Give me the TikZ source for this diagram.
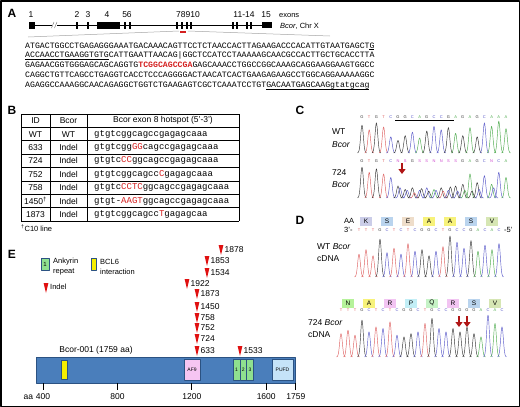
\documentclass[tikz,border=0pt]{standalone}
\usepackage{fontspec}
\setmainfont{Liberation Sans}
\newfontfamily\monofont{Liberation Mono}
\usetikzlibrary{arrows.meta}

\definecolor{baseA}{HTML}{4DAA4D}
\definecolor{baseC}{HTML}{5858C8}
\definecolor{baseG}{HTML}{333333}
\definecolor{baseT}{HTML}{DD6060}
\definecolor{baseN}{HTML}{CC44CC}
\colorlet{baseS}{baseN}
\colorlet{baseR}{baseN}
\definecolor{seqred}{HTML}{D42020}
\definecolor{arrowred}{HTML}{B01515}
\definecolor{barfill}{HTML}{4A7EBB}
\definecolor{baredge}{HTML}{2B5282}
\definecolor{afpink}{HTML}{F6C5F2}
\definecolor{ankgreen}{HTML}{8FE08F}
\definecolor{bclyellow}{HTML}{F5EE00}
\definecolor{pufdblue}{HTML}{C5E3F8}
\definecolor{indelred}{HTML}{E01010}
\definecolor{aaK}{HTML}{CBCDE8}
\definecolor{aaS}{HTML}{BAD4EE}
\definecolor{aaE}{HTML}{EEDDCA}
\definecolor{aaA}{HTML}{F7F27A}
\definecolor{aaV}{HTML}{D6E6B4}
\definecolor{aaN}{HTML}{B6F29A}
\definecolor{aaR}{HTML}{F2C4F2}
\definecolor{aaP}{HTML}{C2EEF6}
\definecolor{aaQ}{HTML}{C6F2C6}

\newcommand{\mut}[1]{\textcolor{seqred}{#1}}
% chromatogram: name, x0, dx, baseline, letter y, height scale, list letter/base/height/base2/height2
\newcommand{\chromo}[7]{%
  \foreach \lt/\pa/\ha/\pb/\hb [count=\i from 0] in {#7} {
    \pgfmathsetmacro{\px}{#2+#3*\i}
    \pgfmathsetmacro{\pxa}{\px-4.5}
    \pgfmathsetmacro{\pxb}{\px+4.5}
    \draw[color=base\pa, line width=0.45pt] plot[domain=\pxa:\pxb, samples=13, smooth] (\x,{#4-#6*\ha*exp(-((\x-\px)/1.9)^2)});
    \ifdim\hb pt>0pt
      \pgfmathsetmacro{\pxc}{\px-2.5}
      \pgfmathsetmacro{\pxd}{\px+6.5}
      \draw[color=base\pb, line width=0.45pt] plot[domain=\pxc:\pxd, samples=13, smooth] (\x,{#4-#6*\hb*exp(-((\x-\px-2)/1.9)^2)});
    \fi
    \node[font=\fontsize{4}{4}\selectfont, inner sep=0pt, text=base\lt] (#1\i) at (\px,#5) {\lt};
  }}
% indel marker: x, y, label
\newcommand{\indel}[3]{%
  \fill[indelred] (#1-2.4,#2-5) -- (#1+2.4,#2-5) -- (#1,#2+5) -- cycle;
  \node[lab, anchor=west] (ind#3) at (#1+3.5,#2) {#3};}

\begin{document}
\begin{tikzpicture}[x=1pt, y=-1pt, line join=round, >=stealth,
  panel/.style={font=\fontsize{12}{12}\selectfont\bfseries, inner sep=0pt},
  lab/.style={font=\fontsize{8.5}{9}\selectfont, inner sep=0pt},
  small/.style={font=\fontsize{7.5}{8}\selectfont, inner sep=0pt},
  seqtxt/.style={font=\monofont\fontsize{8.2}{9}\selectfont, inner sep=0pt, anchor=base west},
  tabseq/.style={font=\monofont\fontsize{9}{10}\selectfont, inner sep=0pt, anchor=west},
  aabox/.style={minimum width=12pt, minimum height=9pt, inner sep=0pt, font=\fontsize{6.5}{7}\selectfont},
  dombox/.style={draw=baredge, line width=0.4pt, inner sep=0pt, font=\fontsize{5}{5}\selectfont},
  redarrow/.style={-{Triangle[width=7pt,length=5pt]}, line width=2.6pt, arrowred}]
\useasboundingbox (0,0) rectangle (520,407);
\draw[line width=1.5pt] (0.75,0.75) rectangle (519.25,406.25);

% ---- A: gene and sequence
\node[panel] (pA) at (12,13) {A};
\draw[line width=0.7pt] (29,25) -- (52,25) (57,25) -- (271,25);
\draw[gray, line width=0.5pt] (51.5,28) -- (54,22) (54.5,28) -- (57,22);
\fill (29,21.5) rectangle (35,28.5);
\fill (97,21.5) rectangle (120,28.5);
\fill (262,22) rectangle (272,28);
\foreach \ex in {77,88,125,130,177,182,187,191,233,237,247,251}
  \fill (\ex-1.2,21.5) rectangle (\ex+1.2,28.5);
\foreach \ex/\num in {31/1, 77/2, 88/3, 107/4, 127/56, 188/78910, 244/11-14, 266/15}
  \node[lab] (ex\num) at (\ex,15) {\num};
\node[small, anchor=west] (exlab) at (279,15.5) {exons};
\node[small, anchor=west] (gene) at (280,26) {\textit{Bcor}, Chr X};
\draw[gray!70, line width=0.5pt] (179,31) -- (28,37);
\draw[gray!70, line width=0.5pt] (188,31) -- (330,36);
\fill[seqred] (180,30.5) rectangle (186,33);

\node[seqtxt] (s1) at (25,48) {ATGACTGGCCTGAGAGGGAAATGACAAACAGTTCCTCTAACCACTTAGAAGACCCACATTGTAATGAGCTG};
\node[seqtxt] (s2) at (25,57.8) {ACCAACCTGAAGGTGTGCATTGAATTAACAG|GGCTCCATCCTAAAAAGCAACGCCACTTGCTGCACCTTA};
\node[seqtxt] (s3) at (25,67.6) {GAGAACGGTGGGAGCAGCAGGTG\textbf{\mut{TCGGCAGCCGA}}GAGCAAACCTGGCCGGCAAAGCAGGAAGGAAGTGGCC};
\node[seqtxt] (s4) at (25,77.4) {CAGGCTGTTCAGCCTGAGGTCACCTCCCAGGGGACTAACATCACTGAAGAGAAGCCTGGCAGGAAAAAGGC};
\node[seqtxt] (s5) at (25,87.2) {AGAGGCCAAAGGCAACAGAGGCTGGTCTGAAGAGTCGCTCAAATCCTGTGACAATGAGCAAGgtatgcag};
\draw[line width=0.4pt] (369.4,49.6) -- (374.3,49.6);
\draw[line width=0.4pt] (25,59.4) -- (108.6,59.4);
\draw[line width=0.4pt] (266.1,88.8) -- (369.4,88.8);

% ---- B: table
\node[panel] (pB) at (12,110) {B};
\foreach \r in {0,...,8}
  \draw[line width=0.8pt] (21,{114+13.4*\r}) -- (239,{114+13.4*\r});
\foreach \cx in {21,50,87,239}
  \draw[line width=0.8pt] (\cx,114) -- (\cx,221.2);
\node[lab] (hid) at (35.5,120.7) {ID};
\node[lab] (hkind) at (68.5,120.7) {Bcor};
\node[lab] (hseq) at (163,120.7) {Bcor exon 8 hotspot (5'-3')};
\foreach \id/\kind/\seq [count=\r] in {
    WT/WT/{gtgtcggcagccgagagcaaa},
    633/Indel/{gtgtcgg\mut{GG}cagccgagagcaaa},
    724/Indel/{gtgtc\mut{CC}ggcagccgagagcaaa},
    752/Indel/{gtgtcggcagcc\mut{C}gagagcaaa},
    758/Indel/{gtgtc\mut{CCTC}ggcagccgagagcaaa},
    {1450\textsuperscript{\textdagger}}/Indel/{gtgt-\mut{AAGT}ggcagccgagagcaaa},
    1873/Indel/{gtgtcggcagcc\mut{T}gagagcaa}} {
  \pgfmathsetmacro{\ry}{120.7+13.4*\r}
  \node[lab] (id\r) at (35.5,\ry) {\id};
  \node[lab] (kind\r) at (68.5,\ry) {\kind};
  \node[tabseq] (seq\r) at (94,\ry) {\seq};
}
\node[small, anchor=west] (c10) at (21,228) {\textsuperscript{\textdagger}C10 line};

% ---- C: genomic traces
\node[panel] (pC) at (300,110) {C};
\node[lab, anchor=west] (wtc1) at (332,132) {WT};
\node[lab, anchor=west] (wtc2) at (332,145) {\textit{Bcor}};
\chromo{wtc}{362}{7.2}{153}{117}{0.58}{G/G/48/G/0, T/T/40/G/0, G/G/52/G/0, T/T/45/G/0, C/C/28/G/0, G/G/22/G/0, G/G/30/G/0, C/C/36/G/0, A/A/26/G/0, G/G/38/G/0, C/C/46/G/0, C/C/40/G/0, G/G/44/G/0, A/A/34/G/0, G/G/30/G/0, A/A/44/G/0, G/G/28/G/0, C/C/52/G/0, A/A/46/G/0, A/A/55/G/0, A/A/42/G/0}
\draw[line width=0.5pt] (395,120) -- (454,120);
\node[lab, anchor=west] (mtc1) at (332,173) {724};
\node[lab, anchor=west] (mtc2) at (332,185) {\textit{Bcor}};
\chromo{mtc}{362}{7.2}{198}{161}{0.86}{G/G/36/G/0, T/T/30/G/0, G/G/34/G/0, T/T/28/G/0, C/C/24/G/0, N/G/14/C/12, S/G/10/C/9, G/G/12/T/6, S/C/9/G/11, S/C/12/G/8, N/A/10/C/9, N/G/12/T/8, S/C/9/G/13, S/G/14/C/8, G/G/16/A/9, A/A/28/G/8, G/G/18/C/10, C/C/26/A/0, N/A/16/C/12, C/C/30/G/0, A/A/24/G/0}
\coordinate (carrow) at (402,163);
\draw[redarrow] (carrow) -- ++(0,11);

% ---- D: cDNA traces
\node[panel] (pD) at (300,220) {D};
\node[small, anchor=west] (aalab) at (344,221) {AA};
\foreach \res/\col [count=\i from 0] in {K/aaK, S/aaS, E/aaE, A/aaA, A/aaA, S/aaS, V/aaV}
  \node[aabox, fill=\col] (wtaa\i) at (366+21*\i,221) {\res};
\node[small, anchor=west] (wt3) at (344,230) {3'-};
\node[small, anchor=west] (wt5) at (504,230) {-5'};
\node[lab, anchor=west] (wtd1) at (317,247) {WT \textit{Bcor}};
\node[lab, anchor=west] (wtd2) at (317,259) {cDNA};
\chromo{wtd}{359}{7}{277}{230}{0.76}{T/T/30/G/0, T/T/36/G/0, T/T/28/G/0, G/G/50/G/0, C/C/32/G/0, T/T/38/G/0, C/C/30/G/0, T/T/44/G/0, C/C/34/G/0, G/G/36/G/0, G/G/28/G/0, C/C/34/G/0, T/T/40/G/0, G/G/54/G/0, C/C/46/G/0, C/C/38/G/0, G/G/48/G/0, A/A/34/G/0, C/C/42/G/0, A/A/36/G/0, C/C/44/G/0}
\foreach \res/\col [count=\i from 0] in {N/aaN, A/aaA, R/aaR, P/aaP, Q/aaQ, R/aaR, S/aaS, V/aaV}
  \node[aabox, fill=\col] (mtaa\i) at (348+21*\i,303) {\res};
\node[lab, anchor=west] (mtd1) at (308,323) {724 \textit{Bcor}};
\node[lab, anchor=west] (mtd2) at (308,335) {cDNA};
\chromo{mtd}{341}{7}{357}{310}{0.84}{T/T/28/G/0, T/T/32/G/0, T/T/26/G/0, G/G/44/G/0, C/C/30/G/0, T/T/36/G/0, C/C/34/G/0, T/T/42/G/0, C/C/26/G/0, G/G/24/G/0, G/G/28/G/0, C/C/30/G/0, T/T/40/G/0, G/G/46/G/0, C/C/34/G/0, C/C/30/G/0, G/G/34/G/0, G/G/30/G/0, G/G/36/G/0, G/G/28/G/0, A/A/24/G/0, C/C/50/G/0, A/A/40/G/0, C/C/36/G/0}
\coordinate (darrow1) at (459,316);
\coordinate (darrow2) at (467,316);
\draw[redarrow] (darrow1) -- ++(0,11);
\draw[redarrow] (darrow2) -- ++(0,11);

% ---- E: protein
\node[panel] (pE) at (12,254) {E};
\node[draw=baredge, line width=0.3pt, fill=ankgreen, minimum width=8pt, minimum height=12pt, inner sep=0pt, font=\fontsize{6}{6}\selectfont] (legank) at (45,264) {1};
\node[small, anchor=west] (legank1) at (53,262) {Ankyrin};
\node[small, anchor=west] (legank2) at (53,272) {repeat};
\node[draw=baredge, line width=0.3pt, fill=bclyellow, minimum width=5pt, minimum height=12pt, inner sep=0pt] (legbcl) at (94,264) {};
\node[small, anchor=west] (legbcl1) at (100,262) {BCL6};
\node[small, anchor=west] (legbcl2) at (100,272) {interaction};
\fill[indelred] (43.6,283) -- (48.4,283) -- (46,293) -- cycle;
\node[small, anchor=west] (legind) at (50,287) {Indel};

\node[lab] (prot) at (96,350) {Bcor-001 (1759 aa)};
\node[draw=baredge, line width=1.4pt, fill=barfill, minimum width=259pt, minimum height=26pt, anchor=north west, inner sep=0pt] (bar) at (36,357) {};
\node[dombox, fill=bclyellow, minimum width=6pt, minimum height=19pt] (bcl) at (64,370) {};
\node[dombox, fill=afpink, minimum width=16pt, minimum height=21pt] (af9) at (192,370) {AF9};
\foreach \n [count=\i from 0] in {1,2,3}
  \node[dombox, fill=ankgreen, minimum width=6.7pt, minimum height=21pt] (ank\n) at (236.5+6.7*\i,370) {\n};
\node[dombox, fill=pufdblue, minimum width=21pt, minimum height=21pt] (pufd) at (282.5,370) {PUFD};
\foreach \aa in {400,800,1200,1600,1759} {
  \pgfmathsetmacro{\tx}{43+(\aa-400)*0.186}
  \draw[line width=0.8pt] (\tx,383) -- (\tx,390);
  \node[lab] (tick\aa) at (\tx,397) {\aa};
}
\node[lab, anchor=east] (aaunit) at ([xshift=-2.5pt]tick400.west) {aa};

\indel{197}{351}{633}
\indel{197}{339}{724}
\indel{197}{328}{752}
\indel{197}{318}{758}
\indel{197}{307}{1450}
\indel{197}{294}{1873}
\indel{187}{284}{1922}
\indel{207}{273}{1534}
\indel{207}{261}{1853}
\indel{221}{250}{1878}
\indel{240}{351}{1533}
\end{tikzpicture}
\end{document}
